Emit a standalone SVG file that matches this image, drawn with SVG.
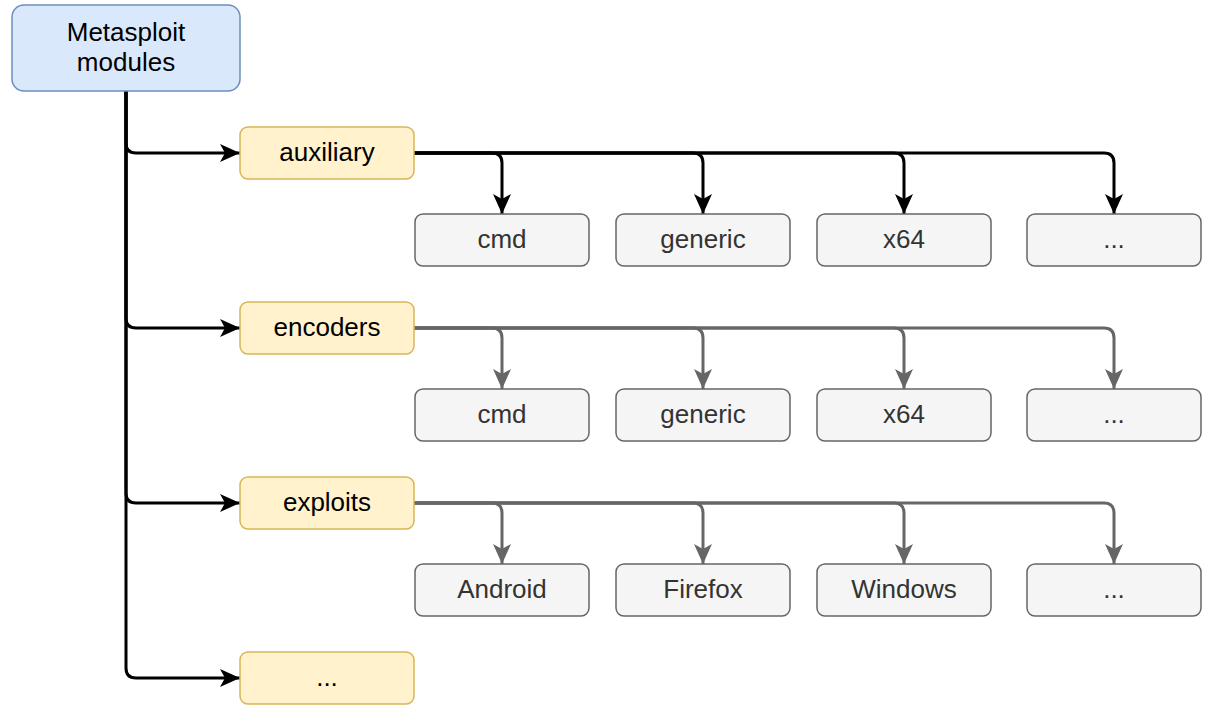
<svg xmlns="http://www.w3.org/2000/svg" width="1215" height="712" viewBox="0 0 1215 712">
<style>
text{font-family:"Liberation Sans",Arial,sans-serif;font-size:26px;text-anchor:middle;dominant-baseline:central}
.root{fill:#dae8fc;stroke:#6c8ebf;stroke-width:1.5}
.cat{fill:#fff2cc;stroke:#d6b656;stroke-width:1.5}
.leaf{fill:#f5f5f5;stroke:#666666;stroke-width:1.5}
.leaf+text{fill:#333333}
.eb{fill:none;stroke:#000;stroke-width:3;marker-end:url(#ab)}
.eg{fill:none;stroke:#666666;stroke-width:3;marker-end:url(#ag)}
</style>
<defs>
<marker id="ab" markerUnits="userSpaceOnUse" markerWidth="20" markerHeight="18" refX="20" refY="9" orient="auto" overflow="visible"><path d="M0,0 L20,9 L0,18 L5,9 Z" fill="#000"/></marker>
<marker id="ag" markerUnits="userSpaceOnUse" markerWidth="20" markerHeight="18" refX="20" refY="9" orient="auto" overflow="visible"><path d="M0,0 L20,9 L0,18 L5,9 Z" fill="#666666"/></marker>
</defs>
<g id="connectors">
<path class="eb" d="M126,91 L126,143 Q126,153 136,153 L240,153"/>
<path class="eb" d="M126,91 L126,318 Q126,328 136,328 L240,328"/>
<path class="eb" d="M126,91 L126,493 Q126,503 136,503 L240,503"/>
<path class="eb" d="M126,91 L126,668 Q126,678 136,678 L240,678"/>
<path class="eb" d="M414,153 L492,153 Q502,153 502,163 L502,214"/>
<path class="eb" d="M414,153 L693,153 Q703,153 703,163 L703,214"/>
<path class="eb" d="M414,153 L894,153 Q904,153 904,163 L904,214"/>
<path class="eb" d="M414,153 L1104,153 Q1114,153 1114,163 L1114,214"/>
<path class="eg" d="M414,328 L492,328 Q502,328 502,338 L502,389"/>
<path class="eg" d="M414,328 L693,328 Q703,328 703,338 L703,389"/>
<path class="eg" d="M414,328 L894,328 Q904,328 904,338 L904,389"/>
<path class="eg" d="M414,328 L1104,328 Q1114,328 1114,338 L1114,389"/>
<path class="eg" d="M414,503 L492,503 Q502,503 502,513 L502,564"/>
<path class="eg" d="M414,503 L693,503 Q703,503 703,513 L703,564"/>
<path class="eg" d="M414,503 L894,503 Q904,503 904,513 L904,564"/>
<path class="eg" d="M414,503 L1104,503 Q1114,503 1114,513 L1114,564"/>
</g>
<g id="root"><rect class="root" x="12" y="5" width="228" height="86" rx="12"/><text x="126" y="32">Metasploit</text><text x="126" y="62">modules</text></g>
<g id="auxiliary"><rect class="cat" x="240" y="127" width="174" height="52" rx="8"/><text x="327" y="152">auxiliary</text></g>
<g id="encoders"><rect class="cat" x="240" y="302" width="174" height="52" rx="8"/><text x="327" y="327">encoders</text></g>
<g id="exploits"><rect class="cat" x="240" y="477" width="174" height="52" rx="8"/><text x="327" y="502">exploits</text></g>
<g id="more"><rect class="cat" x="240" y="652" width="174" height="52" rx="8"/><text x="327" y="677">...</text></g>
<g id="aux-cmd"><rect class="leaf" x="415" y="214" width="174" height="52" rx="8"/><text x="502" y="239">cmd</text></g>
<g id="aux-generic"><rect class="leaf" x="616" y="214" width="174" height="52" rx="8"/><text x="703" y="239">generic</text></g>
<g id="aux-x64"><rect class="leaf" x="817" y="214" width="174" height="52" rx="8"/><text x="904" y="239">x64</text></g>
<g id="aux-more"><rect class="leaf" x="1027" y="214" width="174" height="52" rx="8"/><text x="1114" y="239">...</text></g>
<g id="enc-cmd"><rect class="leaf" x="415" y="389" width="174" height="52" rx="8"/><text x="502" y="414">cmd</text></g>
<g id="enc-generic"><rect class="leaf" x="616" y="389" width="174" height="52" rx="8"/><text x="703" y="414">generic</text></g>
<g id="enc-x64"><rect class="leaf" x="817" y="389" width="174" height="52" rx="8"/><text x="904" y="414">x64</text></g>
<g id="enc-more"><rect class="leaf" x="1027" y="389" width="174" height="52" rx="8"/><text x="1114" y="414">...</text></g>
<g id="exp-android"><rect class="leaf" x="415" y="564" width="174" height="52" rx="8"/><text x="502" y="589">Android</text></g>
<g id="exp-firefox"><rect class="leaf" x="616" y="564" width="174" height="52" rx="8"/><text x="703" y="589">Firefox</text></g>
<g id="exp-windows"><rect class="leaf" x="817" y="564" width="174" height="52" rx="8"/><text x="904" y="589">Windows</text></g>
<g id="exp-more"><rect class="leaf" x="1027" y="564" width="174" height="52" rx="8"/><text x="1114" y="589">...</text></g>
</svg>
